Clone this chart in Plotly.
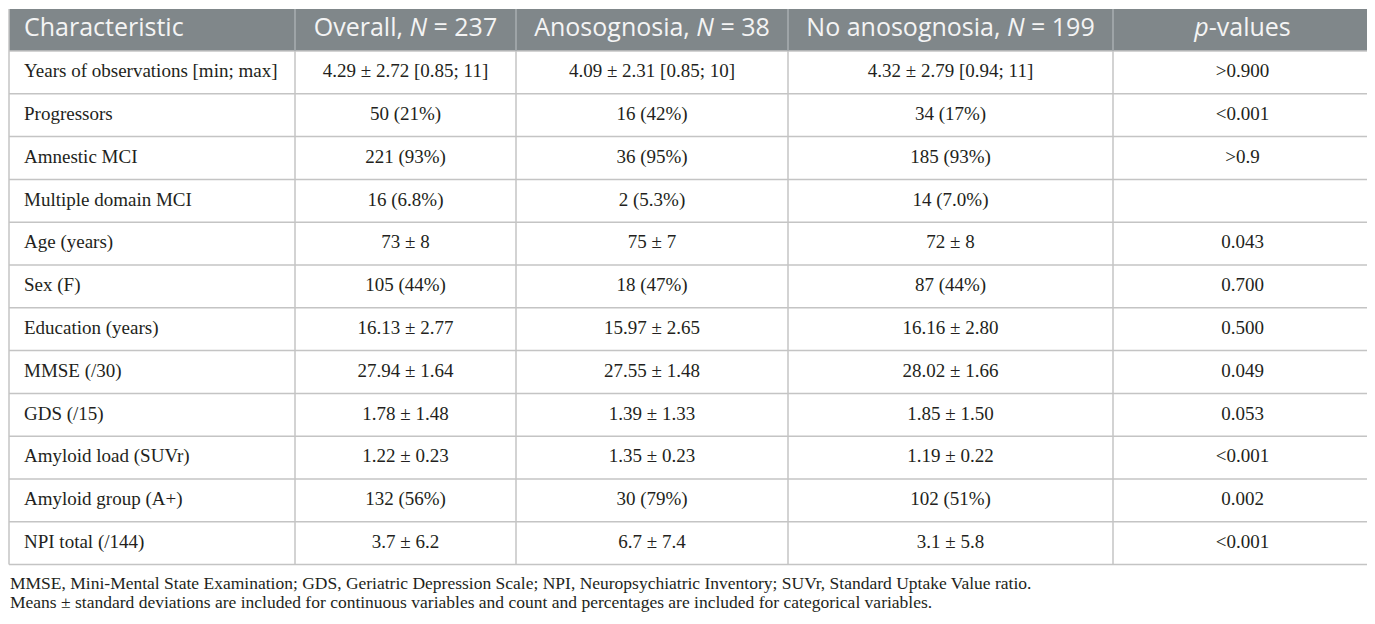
import numpy as np
import plotly.graph_objects as go

# Column headers
headers = [
    "Characteristic",
    "Overall, <i>N</i> = 237",
    "Anosognosia, <i>N</i> = 38",
    "No anosognosia, <i>N</i> = 199",
    "<i>p</i>-values",
]

characteristic = [
    "Years of observations [min; max]",
    "Progressors",
    "Amnestic MCI",
    "Multiple domain MCI",
    "Age (years)",
    "Sex (F)",
    "Education (years)",
    "MMSE (/30)",
    "GDS (/15)",
    "Amyloid load (SUVr)",
    "Amyloid group (A+)",
    "NPI total (/144)",
]

overall = [
    "4.29 ± 2.72 [0.85; 11]", "50 (21%)", "221 (93%)", "16 (6.8%)", "73 ± 8",
    "105 (44%)", "16.13 ± 2.77", "27.94 ± 1.64", "1.78 ± 1.48", "1.22 ± 0.23",
    "132 (56%)", "3.7 ± 6.2",
]

anosognosia = [
    "4.09 ± 2.31 [0.85; 10]", "16 (42%)", "36 (95%)", "2 (5.3%)", "75 ± 7",
    "18 (47%)", "15.97 ± 2.65", "27.55 ± 1.48", "1.39 ± 1.33", "1.35 ± 0.23",
    "30 (79%)", "6.7 ± 7.4",
]

no_anosognosia = [
    "4.32 ± 2.79 [0.94; 11]", "34 (17%)", "185 (93%)", "14 (7.0%)", "72 ± 8",
    "87 (44%)", "16.16 ± 2.80", "28.02 ± 1.66", "1.85 ± 1.50", "1.19 ± 0.22",
    "102 (51%)", "3.1 ± 5.8",
]

p_values = [
    ">0.900", "<0.001", ">0.9", "", "0.043", "0.700", "0.500", "0.049",
    "0.053", "<0.001", "0.002", "<0.001",
]

footnotes = [
    "MMSE, Mini-Mental State Examination; GDS, Geriatric Depression Scale; "
    "NPI, Neuropsychiatric Inventory; SUVr, Standard Uptake Value ratio.",
    "Means ± standard deviations are included for continuous variables and "
    "count and percentages are included for categorical variables.",
]

# Page is 1375x624 but the plot div sits 8px in (body margin),
# so axes are set up so that one unit = one page pixel.
W, H = 1375, 624
off = 8
col_widths = [286, 221, 272, 325, 259]
left, top = 9, 9
header_h, row_h = 42, 42.8
text_pad = 15

header_bg = "#80878a"
grid_col = "#c4c4c4"
header_sep = "#a9aeb1"

edges = left + np.concatenate([[0], np.cumsum(col_widths)])
right = edges[-1]
n_rows = len(characteristic)
row_edges = top + header_h + row_h * np.arange(n_rows + 1)
row_mid = (row_edges[:-1] + row_edges[1:]) / 2
header_mid = top + header_h / 2

columns = [characteristic, overall, anosognosia, no_anosognosia, p_values]

fig = go.Figure()

# Header text
for j, h in enumerate(headers):
    first = j == 0
    fig.add_trace(go.Scatter(
        x=[edges[0] + text_pad if first else (edges[j] + edges[j + 1]) / 2],
        y=[header_mid],
        text=[h], mode="text",
        textposition="middle right" if first else "middle center",
        textfont=dict(family="Open Sans", size=25, color="#f4f4f4"),
        hoverinfo="skip", showlegend=False,
    ))

# Body text
for j, col in enumerate(columns):
    first = j == 0
    fig.add_trace(go.Scatter(
        x=[edges[0] + text_pad if first else (edges[j] + edges[j + 1]) / 2] * n_rows,
        y=row_mid,
        text=col, mode="text",
        textposition="middle right" if first else "middle center",
        textfont=dict(family="Liberation Serif", size=19, color="#231f20"),
        hoverinfo="skip", showlegend=False,
    ))

# Header background and grid lines
shapes = [dict(type="rect", x0=left, x1=right, y0=top, y1=top + header_h,
               fillcolor=header_bg, line=dict(width=0), layer="below")]
for y in row_edges:
    shapes.append(dict(type="line", x0=left, x1=right, y0=y, y1=y,
                       line=dict(color=grid_col, width=1.5)))
for k, x in enumerate(edges):
    outer = k == 0 or k == len(edges) - 1
    shapes.append(dict(type="line", x0=x, x1=x, y0=top, y1=top + header_h,
                       line=dict(color=grid_col if outer else header_sep, width=1.5)))
    shapes.append(dict(type="line", x0=x, x1=x, y0=row_edges[0], y1=row_edges[-1],
                       line=dict(color=grid_col, width=1.5)))

# Footnotes
for i, note in enumerate(footnotes):
    fig.add_annotation(
        text=note, xref="x", yref="y", x=left - 1, y=583 + 18.5 * i,
        xanchor="left", yanchor="middle", showarrow=False,
        font=dict(family="Liberation Serif", size=17.5, color="#231f20"),
    )

fig.update_layout(
    width=W - off, height=H - off,
    margin=dict(l=0, r=0, t=0, b=0),
    paper_bgcolor="white", plot_bgcolor="white",
    shapes=shapes,
    xaxis=dict(range=[off, W], visible=False, fixedrange=True),
    yaxis=dict(range=[H, off], visible=False, fixedrange=True),
)

fig.write_html("out.html")
